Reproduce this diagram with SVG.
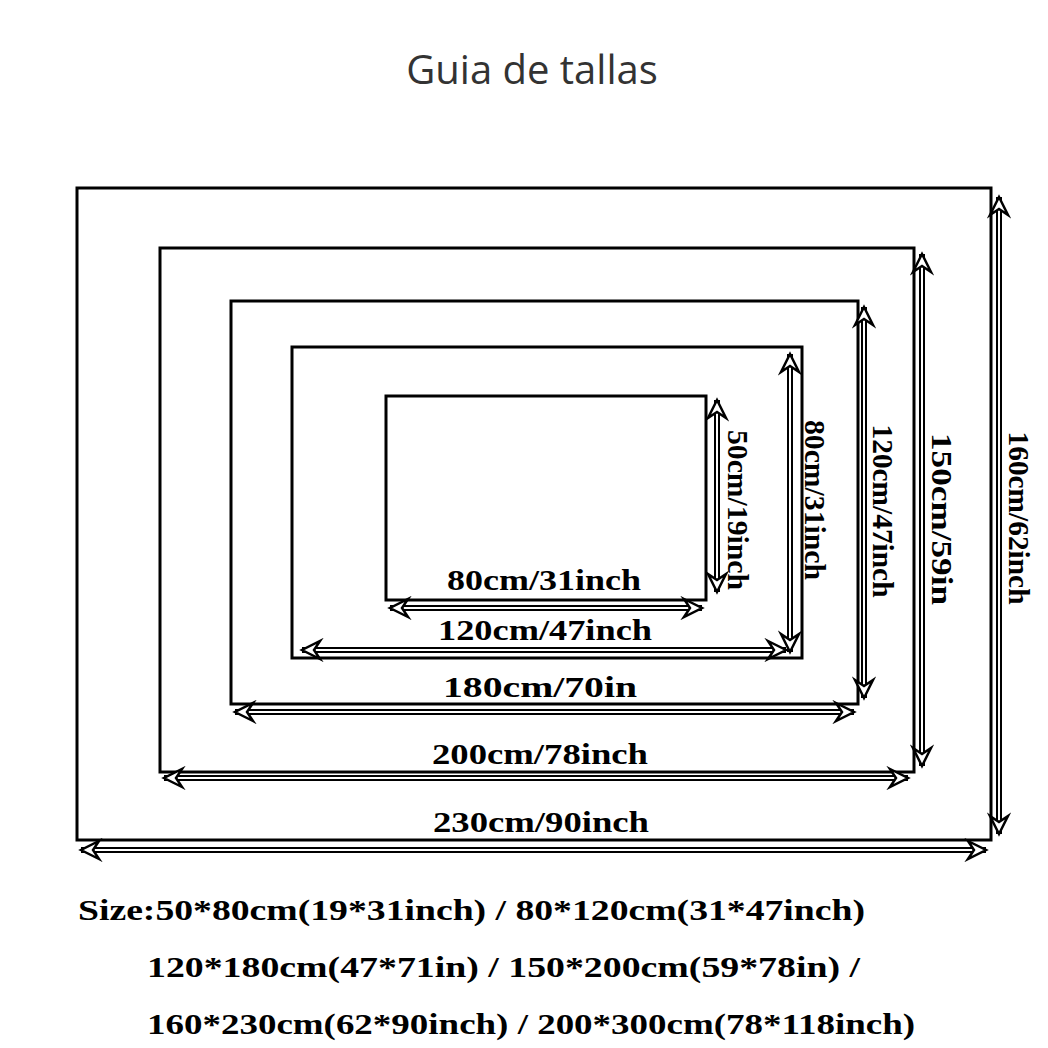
<svg xmlns="http://www.w3.org/2000/svg" width="1048" height="1048" viewBox="0 0 1048 1048">
<style>
.r{fill:none;stroke:#000;stroke-width:3}
.a{stroke:#000;stroke-width:6;fill:none}
.w{stroke:#fff;stroke-width:2;fill:none}
.t{font-family:"Liberation Serif",serif;font-weight:bold;font-size:29px;fill:#000;text-anchor:middle}
.b{font-family:"Liberation Serif",serif;font-weight:bold;font-size:29px;fill:#000}
</style>
<defs>
<marker id="h" markerUnits="userSpaceOnUse" viewBox="-22 -12 26 24" markerWidth="26" markerHeight="24" refX="0" refY="0" orient="auto-start-reverse">
<path d="M-18,-9 L0,0 L-18,9 L-12,0 Z" fill="#fff" stroke="#000" stroke-width="2.5"/>
</marker>
</defs>
<rect width="1048" height="1048" fill="#fff"/>
<text x="532" y="84" font-family="'Open Sans','Noto Sans',sans-serif" font-size="40" fill="#333" text-anchor="middle">Guia de tallas</text>
<g id="r5"><rect class="r" x="77" y="188" width="914" height="652"/></g>
<g id="r4"><rect class="r" x="160" y="248" width="754" height="524"/></g>
<g id="r3"><rect class="r" x="231" y="301" width="627" height="403"/></g>
<g id="r2"><rect class="r" x="292" y="347" width="510" height="311"/></g>
<g id="r1"><rect class="r" x="386" y="396" width="320" height="204"/></g>
<g id="connectors">
<path class="a" d="M390,608H702 M302,650H786 M235,712H854 M164,778H908 M81,850H986 M717,400V592 M790,354V652 M864,307V698 M922,254V766 M999,197V834"/>
<path class="w" d="M392,608H700 M304,650H784 M237,712H852 M166,778H906 M83,850H984 M717,402V590 M790,356V650 M864,309V696 M922,256V764 M999,199V832"/>
<g stroke="none" fill="none" marker-start="url(#h)" marker-end="url(#h)">
<path d="M390,608H702"/><path d="M302,650H786"/><path d="M235,712H854"/><path d="M164,778H908"/><path d="M81,850H986"/>
<path d="M717,400V592"/><path d="M790,354V652"/><path d="M864,307V698"/><path d="M922,254V766"/><path d="M999,197V834"/>
</g>
</g>
<g id="labels">
<text class="t" x="544" y="590" textLength="194" lengthAdjust="spacingAndGlyphs">80cm/31inch</text>
<text class="t" x="545" y="640" textLength="214" lengthAdjust="spacingAndGlyphs">120cm/47inch</text>
<text class="t" x="540" y="697" textLength="194" lengthAdjust="spacingAndGlyphs">180cm/70in</text>
<text class="t" x="540" y="764" textLength="216" lengthAdjust="spacingAndGlyphs">200cm/78inch</text>
<text class="t" x="541" y="832" textLength="216" lengthAdjust="spacingAndGlyphs">230cm/90inch</text>
<text class="t" transform="translate(728,510) rotate(90)" textLength="160" lengthAdjust="spacingAndGlyphs">50cm/19inch</text>
<text class="t" transform="translate(805,500) rotate(90)" textLength="160" lengthAdjust="spacingAndGlyphs">80cm/31inch</text>
<text class="t" transform="translate(873,511) rotate(90)" textLength="173" lengthAdjust="spacingAndGlyphs">120cm/47inch</text>
<text class="t" transform="translate(932,519) rotate(90)" textLength="172" lengthAdjust="spacingAndGlyphs">150cm/59in</text>
<text class="t" transform="translate(1009,518) rotate(90)" textLength="173" lengthAdjust="spacingAndGlyphs">160cm/62inch</text>
</g>
<g id="sizes">
<text class="b" x="78" y="920" textLength="787" lengthAdjust="spacingAndGlyphs">Size:50*80cm(19*31inch) / 80*120cm(31*47inch)</text>
<text class="b" x="147" y="977" textLength="713" lengthAdjust="spacingAndGlyphs">120*180cm(47*71in) / 150*200cm(59*78in) /</text>
<text class="b" x="147" y="1034" textLength="768" lengthAdjust="spacingAndGlyphs">160*230cm(62*90inch) / 200*300cm(78*118inch)</text>
</g>
</svg>
